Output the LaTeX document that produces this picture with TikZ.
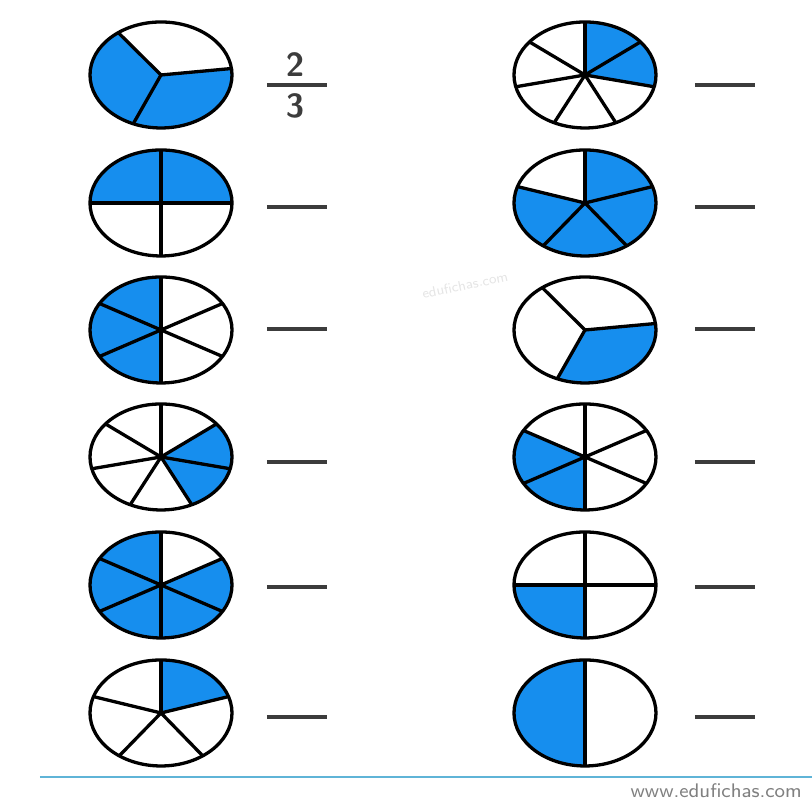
\documentclass[tikz,border=0pt]{standalone}
\usepackage{xcolor}
\usepackage{tikz}
\usetikzlibrary{calc, positioning}

\definecolor{pieblue}{RGB}{22,142,238}
\definecolor{dashgray}{RGB}{60,60,60}
\definecolor{footblue}{RGB}{95,180,215}

% \piechart{cx}{cy}{so phan}{goc bat dau}{cac phan to mau}
\newcommand{\piechart}[5]{%
  \begin{scope}[shift={(#1,#2)}]
    \foreach \k in {#5} {
      \pgfmathsetmacro{\ga}{#4-360/#3*(\k-1)}
      \pgfmathsetmacro{\gb}{\ga-360/#3}
      \fill[pieblue] (0,0) -- ({\rx*cos(\ga)},{\ry*sin(\ga)})
        arc[start angle=\ga, end angle=\gb, x radius=\rx, y radius=\ry] -- cycle;
    }
    \foreach \k in {1,...,#3} {
      \pgfmathsetmacro{\ga}{#4-360/#3*(\k-1)}
      \draw[pieline] (0,0) -- ({\rx*cos(\ga)},{\ry*sin(\ga)});
    }
    \draw[pieline] (0,0) ellipse[x radius=\rx, y radius=\ry];
  \end{scope}}

\begin{document}
\begin{tikzpicture}[x=0.1mm, y=0.1mm,
    pieline/.style={line width=0.33mm, line join=round},
    blank/.style={line width=0.4mm, dashgray},
    digit/.style={inner sep=0pt, text=dashgray, font=\fontsize{9.5}{10}\sffamily\bfseries}]
    % Kich thuoc trang va ban kinh hinh elip
    \useasboundingbox (0,0) rectangle (812,803);
    \def\rx{71}
    \def\ry{53}
    \def\xl{161}
    \def\xr{585}

    % --- Cot trai ---
    \piechart{\xl}{728}{3}{127}{2,3}
    \piechart{\xl}{600}{4}{180}{1,2}
    \piechart{\xl}{473}{6}{90}{4,5,6}
    \piechart{\xl}{346}{7}{90}{2,3}
    \piechart{\xl}{218}{6}{90}{2,3,4,5,6}
    \piechart{\xl}{90}{5}{90}{1}

    % --- Cot phai ---
    \piechart{\xr}{728}{7}{90}{1,2}
    \piechart{\xr}{600}{5}{90}{1,2,3,4}
    \piechart{\xr}{473}{3}{127}{2}
    \piechart{\xr}{346}{6}{90}{4,5}
    \piechart{\xr}{218}{4}{180}{4}
    \piechart{\xr}{90}{2}{90}{2}

    % Phan so mau 2/3
    \node[digit] (num) at (295,738) {2};
    \node[digit] (den) at (295,697) {3};
    \draw[blank] (267,718) -- (327,718);

    % Cac cho trong de dien
    \foreach \y in {596,474,341,216,86}
      \draw[blank] (267,\y) -- (327,\y);
    \foreach \y in {718,596,474,341,216,86}
      \draw[blank] (695,\y) -- (755,\y);

    % Chu mo va chan trang
    \node[rotate=12, text=gray!20, font=\fontsize{4}{5}\sffamily] (mark) at (465,518) {edufichas.com};
    \draw[footblue, line width=0.2mm] (40,26) -- (812,26);
    \node[anchor=west, inner sep=0pt, text=gray, font=\fontsize{5.6}{7}\sffamily] (site) at (630,12) {www.edufichas.com};
\end{tikzpicture}
\end{document}
